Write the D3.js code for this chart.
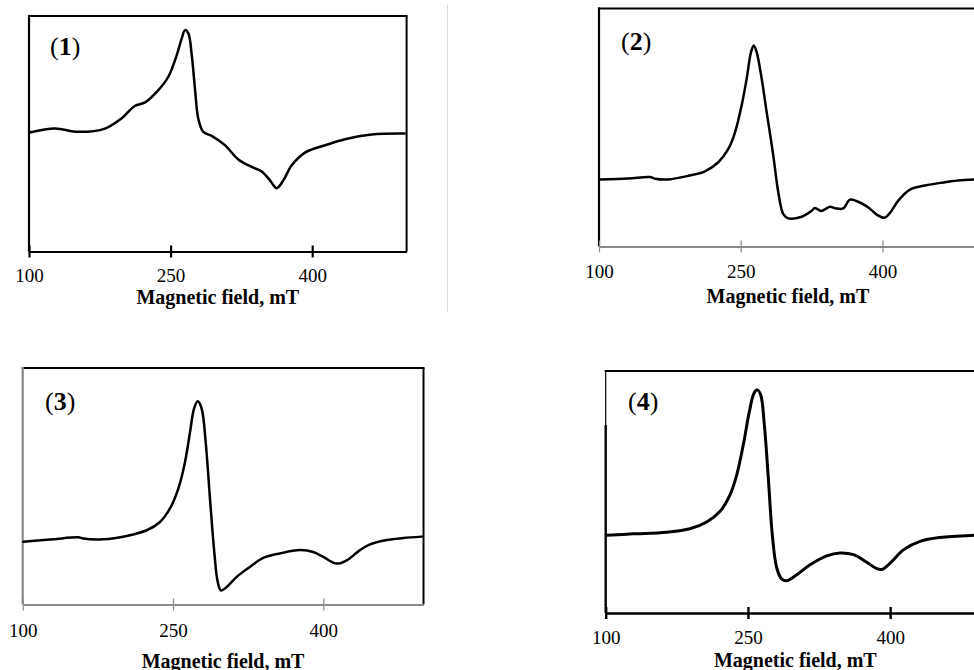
<!DOCTYPE html>
<html>
<head>
<meta charset="utf-8">
<script src="https://cdn.jsdelivr.net/npm/d3@7"></script>
<style>
html,body{margin:0;padding:0;background:#fff;overflow:hidden;}
svg{display:block;}
</style>
</head>
<body>
<svg id="chart" width="974" height="670"></svg>
<script>
// ---------- data ----------
const tickValues = [100, 250, 400];
const axisTitle = "Magnetic field, mT";
const panelLabels = ["1", "2", "3", "4"];

const field1 = [101,127.5,152,180.5,198,212,223,237,247.6,256.5,261.8,265.3,268.8,272.4,275.8,279.3,284.6,293.5,307.6,321.7,335.9,346.5,355.3,362.4,369.4,378.3,392.4,413.6,434.7,463,498];
const signal1 = [50.5,52.2,50.8,52.2,56.5,61.8,63.3,68.5,74.2,83.4,90.5,94,92.6,83.4,69.2,56.5,50.8,49.1,45.1,39.1,35.9,34,30.2,26.9,30.2,36.6,42,45.1,47.7,49.7,50.1];

const field2 = [101,131,154,159.3,173.4,194.5,212.2,226.3,236.9,244,251,256.3,260.9,263.8,266.9,272.2,277.5,284.5,289.8,295.1,300.4,314.6,325.2,328.6,335,344.5,350.6,358.6,365.7,374.5,385.1,394,402,408,416.8,429.2,445.1,462.8,480.3,499];
const signal2 = [28.1,28.6,29.2,28.5,28.2,29.7,31.6,35.4,41,48,59.3,70.5,81.7,84.5,81.7,70.5,56.4,38.2,22.7,13.6,11.8,12.5,15,16.2,14.9,16.7,16,16,19.7,18.8,16.4,13.4,12.1,14.1,19.3,23.9,25.6,26.8,27.7,28.2];

const field3 = [100.6,130.5,155.5,160.5,180.4,203.8,223.8,237,247,255.3,262,267,271,274.7,278.6,282.6,286.9,291.2,294.6,297.9,303.6,313.6,326.8,340.1,356.8,376.7,390,400,413.4,423.4,436.6,446.6,463.3,479.8,498.2];
const signal3 = [26.5,27.6,28.4,27.9,27.6,29,31.4,34.9,40.6,49,60.3,72.9,82.8,85.9,82.8,68.7,44.8,22.2,9.6,5.9,7.4,11.7,15.9,19.7,21.6,23,22.2,20.1,17.3,18.7,23,25.4,27.3,28.1,28.7];

const field4 = [101,129.1,164.3,188.9,206.5,220.6,231.1,238.2,245.1,251.5,256.4,259.9,263.5,267.3,271.5,275.7,280.4,285.7,290.9,301.5,315.5,333.1,347.2,361.2,375.3,385.9,391.1,400,413.9,431.5,452.6,487.8,500];
const signal4 = [32.1,32.7,33.4,34.8,37.6,42,48.8,57.1,69.5,83.2,90.8,92.2,90.1,77.7,55.7,32.3,18.6,14,13.3,15.8,19.9,23.6,24.8,24.1,21,18.3,18,20.6,26.1,29.6,31.2,32.1,32.2];

const fieldDomain = [100, 500];
const signalDomain = [0, 100];

// ---------- layout / style per panel ----------
const panels = [
  {field: field1, signal: signal1, label: panelLabels[0],
   x0: 29, x1: 406.6, top: 16, axisY: 251.5,
   frameColor: "#000", leftColor: "#000", axisColor: "#000", axisWidth: 2.2, tickWidth: 2.2,
   tickLabelDy: 30, titleDy: 52.5, labelX: 50, labelY: 55, lineW: 2.5},
  {field: field2, signal: signal2, label: panelLabels[1],
   x0: 599, x1: 976.9, top: 8.5, axisY: 246.5,
   frameColor: "#000", leftColor: "#000", axisColor: "#8a8a8a", axisWidth: 2.2, tickWidth: 1.2,
   tickLabelDy: 31, titleDy: 56, labelX: 621, labelY: 50, lineW: 2.5},
  {field: field3, signal: signal3, label: panelLabels[2],
   x0: 22.7, x1: 423.5, top: 368, axisY: 604.5,
   frameColor: "#000", leftColor: "#8a8a8a", axisColor: "#8a8a8a", axisWidth: 2.2, tickWidth: 1.2,
   tickLabelDy: 32, titleDy: 63, labelX: 45, labelY: 410, lineW: 2.5},
  {field: field4, signal: signal4, label: panelLabels[3],
   x0: 605.7, x1: 985, top: 371, axisY: 613,
   frameColor: "#000", leftColor: "#000", axisColor: "#000", axisWidth: 2.4, tickWidth: 2.4,
   tickLabelDy: 31, titleDy: 54, labelX: 628, labelY: 410, lineW: 3, leftThinTo: 425},
];

const svg = d3.select("#chart");
const serif = "'Liberation Serif','Times New Roman',Times,serif";

// faint separator line between top panels
svg.append("line")
  .attr("x1", 447.5).attr("x2", 447.5).attr("y1", 5).attr("y2", 312)
  .attr("stroke", "#dcdcdc").attr("stroke-width", 1);

panels.forEach(p => {
  const g = svg.append("g");
  const x = d3.scaleLinear().domain(fieldDomain).range([p.x0, p.x1]);
  const y = d3.scaleLinear().domain(signalDomain).range([p.axisY, p.top]);

  // frame: top and right
  g.append("line").attr("x1", x(fieldDomain[0]) - 1).attr("x2", x(fieldDomain[1]) + 1)
    .attr("y1", p.top).attr("y2", p.top).attr("stroke", p.frameColor).attr("stroke-width", 2);
  g.append("line").attr("x1", x(fieldDomain[1])).attr("x2", x(fieldDomain[1]))
    .attr("y1", p.top).attr("y2", p.axisY).attr("stroke", p.frameColor).attr("stroke-width", 2);
  // left side
  if (p.leftThinTo) {
    g.append("line").attr("x1", x(fieldDomain[0])).attr("x2", x(fieldDomain[0]))
      .attr("y1", p.top).attr("y2", p.leftThinTo).attr("stroke", p.leftColor).attr("stroke-width", 1.2);
    g.append("line").attr("x1", x(fieldDomain[0])).attr("x2", x(fieldDomain[0]))
      .attr("y1", p.leftThinTo).attr("y2", p.axisY).attr("stroke", p.leftColor).attr("stroke-width", 2.4);
  } else {
    g.append("line").attr("x1", x(fieldDomain[0])).attr("x2", x(fieldDomain[0]))
      .attr("y1", p.top - 1).attr("y2", p.axisY).attr("stroke", p.leftColor).attr("stroke-width", 2.2);
  }

  // x axis
  const axis = d3.axisBottom(x).tickValues(tickValues).tickSize(6).tickSizeOuter(0)
    .tickFormat(d3.format("d"));
  const ag = g.append("g").attr("transform", `translate(0,${p.axisY})`).call(axis);
  ag.select(".domain").attr("stroke", p.axisColor).attr("stroke-width", p.axisWidth);
  ag.selectAll(".tick line").attr("y1", -6).attr("y2", 6)
    .attr("stroke", p.axisColor).attr("stroke-width", p.tickWidth);
  ag.selectAll(".tick text").attr("y", p.tickLabelDy).attr("dy", 0)
    .attr("fill", "#000").attr("font-family", serif).attr("font-size", 19);

  // axis title
  g.append("text")
    .attr("x", (x(fieldDomain[0]) + x(fieldDomain[1])) / 2)
    .attr("y", p.axisY + p.titleDy)
    .attr("text-anchor", "middle")
    .attr("font-family", serif).attr("font-weight", "bold").attr("font-size", 20)
    .text(axisTitle);

  // panel label "(n)"
  const t = g.append("text").attr("x", p.labelX).attr("y", p.labelY)
    .attr("font-family", serif).attr("font-size", 26);
  t.append("tspan").text("(");
  t.append("tspan").attr("font-weight", "bold").text(p.label);
  t.append("tspan").text(")");

  // spectrum
  const pts = p.field.map((f, i) => [f, p.signal[i]]);
  const line = d3.line().x(d => x(d[0])).y(d => y(d[1])).curve(d3.curveCatmullRom.alpha(0.5));
  g.append("path").datum(pts).attr("d", line)
    .attr("fill", "none").attr("stroke", "#000").attr("stroke-width", p.lineW)
    .attr("stroke-linejoin", "round").attr("stroke-linecap", "round");
});
</script>
</body>
</html>
